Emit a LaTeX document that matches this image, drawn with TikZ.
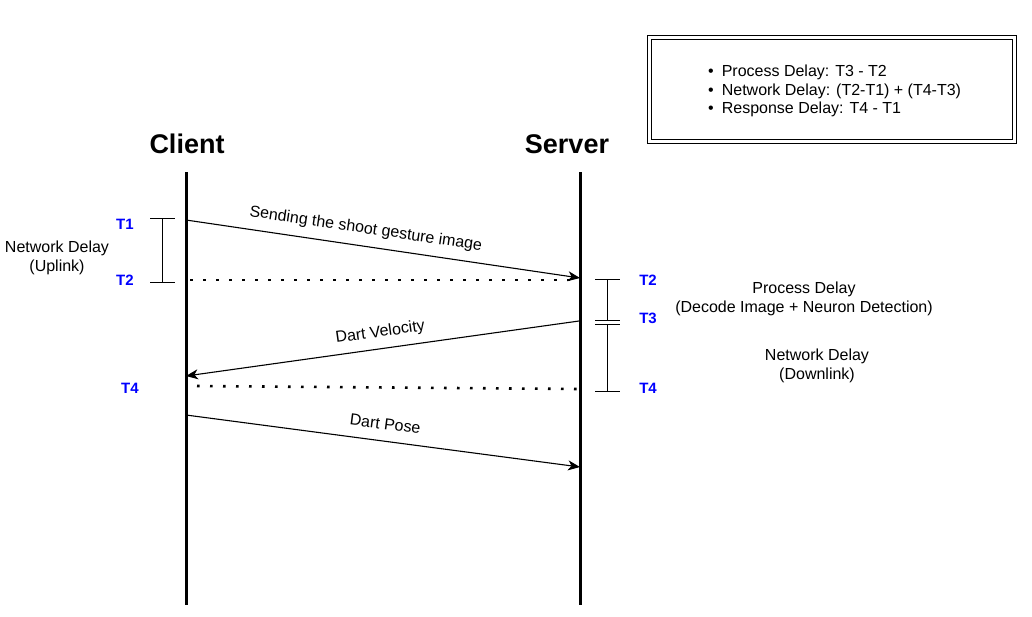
\documentclass[tikz,border=0pt]{standalone}
\usepackage{fontspec}
\setmainfont{Liberation Sans}
\usetikzlibrary{arrows.meta}
\definecolor{tblue}{RGB}{0,0,255}
\begin{document}
\begin{tikzpicture}[x=1pt,y=-1pt,
  txt/.style={font=\fontsize{16}{19.5}\selectfont, inner sep=1pt, align=center},
  tlab/.style={font=\fontsize{15}{18}\selectfont\bfseries, text=tblue, inner sep=0pt},
  head/.style={font=\fontsize{27}{32}\selectfont\bfseries, inner sep=0pt},
  life/.style={line width=3pt},
  msg/.style={line width=1.1pt, -{Stealth[length=12pt,width=10pt,inset=3.5pt]}},
  dots/.style={line width=2.6pt, dash pattern=on 2.6pt off 10.4pt},
  brk/.style={line width=1pt}]
\useasboundingbox (0,0) rectangle (1032,616);
% legend
\draw[line width=1pt] (647,35) rectangle (1016,143);
\draw[line width=1pt] (651,39) rectangle (1012,139);
\node[font=\fontsize{16}{18.8}\selectfont, inner sep=1pt, anchor=west, align=left] (legend) at (707,91) {%
  \textbullet\hspace{8pt}Process Delay: T3 - T2\\
  \textbullet\hspace{8pt}Network Delay: (T2-T1) + (T4-T3)\\
  \textbullet\hspace{8pt}Response Delay: T4 - T1};
% heads
\node[head] (client) at (187,144) {Client};
\node[head] (server) at (567,144) {Server};
% lifelines
\coordinate (ctop) at (186,172); \coordinate (cbot) at (186,605);
\coordinate (stop) at (580,172); \coordinate (sbot) at (580,605);
\draw[life] (ctop) -- (cbot);
\draw[life] (stop) -- (sbot);
% left bracket
\coordinate (lb1) at (162,218); \coordinate (lb2) at (162,282);
\draw[brk] (lb1) -- (lb2);
\draw[brk] ([xshift=-12pt]lb1) -- ([xshift=13pt]lb1);
\draw[brk] ([xshift=-12pt]lb2) -- ([xshift=13pt]lb2);
\node[tlab] (t1) at (125,224) {T1};
\node[tlab] (t2l) at (125,280) {T2};
\node[txt] (ndu) at (57,258) {Network Delay\\(Uplink)};
% right bracket
\coordinate (rb1) at (607,279); \coordinate (rb2) at (607,320);
\coordinate (rb3) at (607,324); \coordinate (rb4) at (607,391);
\draw[brk] (rb1) -- (rb2);
\draw[brk] (rb3) -- (rb4);
\foreach \c in {rb1,rb2,rb3,rb4}
  \draw[brk] ([xshift=-12pt]\c) -- ([xshift=13pt]\c);
\node[tlab] (t2r) at (648,280) {T2};
\node[tlab] (t3) at (648,318) {T3};
\node[tlab] (t4r) at (648,388) {T4};
\node[tlab] (t4l) at (130,388) {T4};
\node[txt] (pd) at (804,299) {Process Delay\\(Decode Image + Neuron Detection)};
\node[txt] (ndd) at (817,366) {Network Delay\\(Downlink)};
% messages
\coordinate (m1a) at (186,220); \coordinate (m1b) at (580,278);
\draw[msg] (m1a) -- node[txt, sloped, above=8pt, pos=0.45] (l1) {Sending the shoot gesture image} (m1b);
\coordinate (d1a) at (190,280); \coordinate (d1b) at (580,280);
\draw[dots] (d1a) -- (d1b);
\coordinate (m2a) at (579,321); \coordinate (m2b) at (186,376);
\draw[msg] (m2a) -- node[txt, sloped, above=7pt, pos=0.5] (l2) {Dart Velocity} (m2b);
\coordinate (d2a) at (197,386); \coordinate (d2b) at (580,389);
\draw[dots] (d2a) -- (d2b);
\coordinate (m3a) at (186,415); \coordinate (m3b) at (580,467);
\draw[msg] (m3a) -- node[txt, sloped, above=10pt, pos=0.5] (l3) {Dart Pose} (m3b);
\end{tikzpicture}
\end{document}
